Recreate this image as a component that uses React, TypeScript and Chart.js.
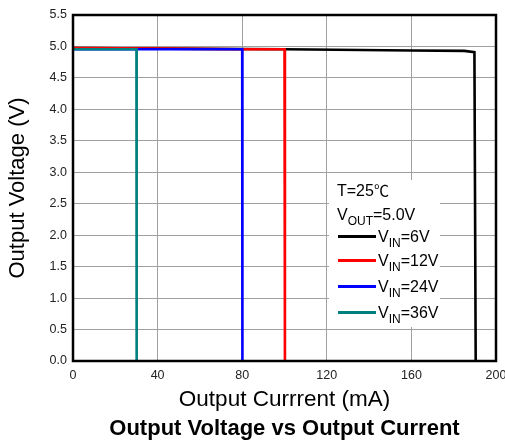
import React, { useEffect, useRef } from "react";
import { Chart, registerables } from "chart.js";

Chart.register(...registerables);

// Output current (mA) / output voltage (V) for each input voltage
const vin6X = [0, 45, 100, 160, 185, 189.8, 190.4];
const vin6Y = [4.975, 4.965, 4.955, 4.935, 4.93, 4.91, 0];
const vin12X = [0, 45, 80, 100, 100.2];
const vin12Y = [4.975, 4.965, 4.955, 4.955, 0];
const vin24X = [0, 80, 80.1];
const vin24Y = [4.955, 4.955, 0];
const vin36X = [0, 30, 30.1];
const vin36Y = [4.955, 4.955, 0];

const xTicks = [0, 40, 80, 120, 160, 200];
const yMin = 0;
const yMax = 5.5;
const yStep = 0.5;

const legendLabels = ["6V", "12V", "24V", "36V"];
const seriesColors = ["#000000", "#ff0000", "#0000ff", "#008080"];

const FONT = "'Liberation Sans', Arial, sans-serif";

function pts(xs: number[], ys: number[]) {
  return xs.map((x, i) => ({ x, y: ys[i] }));
}

const framePlugin = {
  id: "frameAndLegend",
  afterDraw(chart: any) {
    const { ctx, chartArea } = chart;
    const { left, top, right, bottom } = chartArea;
    ctx.save();
    // frame
    ctx.strokeStyle = "#000";
    ctx.lineWidth = 2.5;
    ctx.strokeRect(left, top, right - left, bottom - top);

    // legend box
    const bx = 329, by = 180, bw = 111, bh = 147;
    ctx.fillStyle = "#fff";
    ctx.fillRect(bx, by, bw, bh);

    ctx.fillStyle = "#000";
    ctx.textBaseline = "alphabetic";
    ctx.textAlign = "left";
    const main = `16px ${FONT}`;
    const sub = `12px ${FONT}`;
    ctx.font = main;
    ctx.fillText("T=25", 337, 196);
    let cx = 337 + ctx.measureText("T=25").width;
    ctx.font = `15px 'Noto Sans CJK SC', ${FONT}`;
    ctx.fillText("℃", cx, 196);
    // V_OUT
    let x = 337;
    ctx.font = main;
    ctx.fillText("V", x, 220);
    x += ctx.measureText("V").width;
    ctx.font = sub;
    ctx.fillText("OUT", x, 225);
    x += ctx.measureText("OUT").width;
    ctx.font = main;
    ctx.fillText("=5.0V", x, 220);

    const rowY = [236.5, 260.5, 286.5, 312.5];
    legendLabels.forEach((lab, i) => {
      const y = rowY[i];
      ctx.strokeStyle = seriesColors[i];
      ctx.lineWidth = 3;
      ctx.beginPath();
      ctx.moveTo(338, y);
      ctx.lineTo(376, y);
      ctx.stroke();
      let tx = 378;
      ctx.font = main;
      ctx.fillText("V", tx, y + 5);
      tx += ctx.measureText("V").width;
      ctx.font = sub;
      ctx.fillText("IN", tx, y + 10);
      tx += ctx.measureText("IN").width;
      ctx.font = main;
      ctx.fillText("=" + lab, tx, y + 5);
    });

    // bottom caption
    ctx.font = `bold 22px ${FONT}`;
    ctx.textAlign = "center";
    ctx.textBaseline = "middle";
    ctx.fillStyle = "#000";
    ctx.fillText("Output Voltage vs Output Current", (left + right) / 2, 429);
    ctx.restore();
  },
};

export default function App() {
  const ref = useRef<HTMLCanvasElement | null>(null);

  useEffect(() => {
    document.body.style.margin = "0";
    const canvas = ref.current;
    if (!canvas) return;
    const series = [
      { xs: vin6X, ys: vin6Y },
      { xs: vin12X, ys: vin12Y },
      { xs: vin24X, ys: vin24Y },
      { xs: vin36X, ys: vin36Y },
    ];
    const chart = new Chart(canvas, {
      type: "scatter",
      data: {
        datasets: series.map((s, i) => ({
          label: "VIN=" + legendLabels[i],
          data: pts(s.xs, s.ys),
          showLine: true,
          borderColor: seriesColors[i],
          backgroundColor: seriesColors[i],
          borderWidth: 2.6,
          pointRadius: 0,
          tension: 0,
          order: 4 - i,
        })),
      },
      options: {
        animation: false,
        responsive: false,
        devicePixelRatio: 1,
        layout: { padding: { top: 15, right: 9, left: 0, bottom: 0 } },
        plugins: {
          legend: { display: false },
          tooltip: { enabled: false },
        },
        scales: {
          x: {
            type: "linear",
            min: xTicks[0],
            max: xTicks[xTicks.length - 1],
            afterBuildTicks: (scale: any) => {
              scale.ticks = xTicks.map((v) => ({ value: v }));
            },
            afterFit: (scale: any) => {
              scale.height = 85;
              scale.paddingLeft = 0;
              scale.paddingRight = 0;
            },
            grid: { color: "#a0a0a0", lineWidth: 1, drawTicks: false },
            border: { display: false },
            ticks: {
              padding: 7,
              color: "#222",
              font: { family: FONT, size: 12.5 },
              maxRotation: 0,
            },
            title: {
              display: true,
              text: "Output Currrent (mA)",
              color: "#000",
              font: { family: FONT, size: 22.5 },
              padding: { top: 0, bottom: 33 },
            },
          },
          y: {
            type: "linear",
            min: yMin,
            max: yMax,
            ticks: {
              stepSize: yStep,
              padding: 6,
              color: "#222",
              font: { family: FONT, size: 12.5 },
              callback: (v: any) => Number(v).toFixed(1),
            },
            afterFit: (scale: any) => {
              scale.width = 73;
              scale.paddingTop = 0;
              scale.paddingBottom = 0;
            },
            grid: { color: "#a0a0a0", lineWidth: 1, drawTicks: false },
            border: { display: false },
            title: {
              display: true,
              text: "Output Voltage (V)",
              color: "#000",
              font: { family: FONT, size: 22 },
              padding: { top: 5, bottom: 0 },
            },
          },
        },
      },
      plugins: [framePlugin],
    } as any);
    return () => chart.destroy();
  }, []);

  return (
    <div style={{ width: 505, height: 446, background: "#fff" }}>
      <canvas ref={ref} width={505} height={446} style={{ display: "block" }} />
    </div>
  );
}
